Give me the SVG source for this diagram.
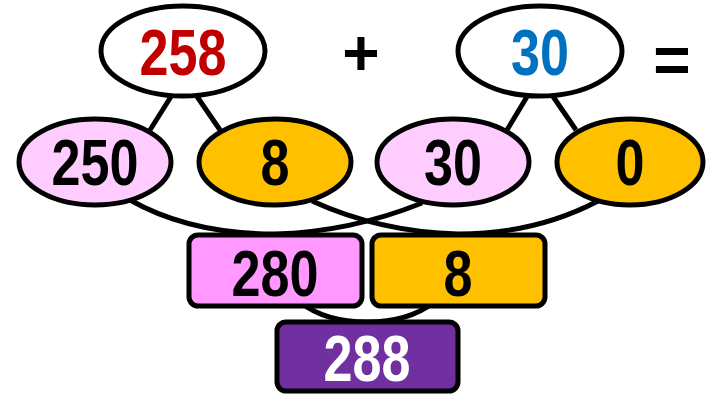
<svg xmlns="http://www.w3.org/2000/svg" width="708" height="396" viewBox="0 0 708 396">
<style>
.n{stroke:#000;stroke-width:5}
.c{fill:none;stroke:#000;stroke-width:5}
text{font-family:"Liberation Sans",Arial,sans-serif;font-weight:bold;font-size:64px;text-anchor:middle}
.w{fill:#fff}.lp{fill:#FFCCFF}.or{fill:#FFC000}.pk{fill:#FF99FF}.pu{fill:#7030A0}
</style>
<g id="connectors">
<line class="c" x1="172" y1="95" x2="150" y2="130"/>
<line class="c" x1="196" y1="95" x2="220" y2="130"/>
<line class="c" x1="528" y1="95" x2="507" y2="130"/>
<line class="c" x1="552" y1="95" x2="576" y2="130"/>
<path class="c" d="M130,200 Q190,234 275,234"/>
<path class="c" d="M312,201 Q380,232 458,234"/>
<path class="c" d="M422,203 Q350,232 275,234"/>
<path class="c" d="M598,201 Q535,234 458,234"/>
<path class="c" d="M300,302 Q325,322 367,322"/>
<path class="c" d="M434,302 Q409,322 367,322"/>
</g>
<g id="n258"><ellipse class="n w" cx="183" cy="51" rx="82" ry="45"/><text x="183" y="75" fill="#C00000" textLength="87" lengthAdjust="spacingAndGlyphs">258</text></g>
<g id="plus"><text x="361" y="75" font-size="58">+</text></g>
<g id="n30top"><ellipse class="n w" cx="540" cy="51" rx="82" ry="45"/><text x="540" y="75" fill="#0070C0" textLength="58" lengthAdjust="spacingAndGlyphs">30</text></g>
<g id="equals"><text x="672" y="82" font-size="58">=</text></g>
<g id="n250"><ellipse class="n lp" cx="95" cy="162" rx="76" ry="43"/><text x="95" y="185" textLength="87" lengthAdjust="spacingAndGlyphs">250</text></g>
<g id="n8"><ellipse class="n or" cx="275" cy="162" rx="76" ry="43"/><text x="275" y="185" textLength="29" lengthAdjust="spacingAndGlyphs">8</text></g>
<g id="n30"><ellipse class="n lp" cx="453" cy="162" rx="76" ry="43"/><text x="453" y="185" textLength="58" lengthAdjust="spacingAndGlyphs">30</text></g>
<g id="n0"><ellipse class="n or" cx="630" cy="162" rx="73" ry="43"/><text x="630" y="185" textLength="29" lengthAdjust="spacingAndGlyphs">0</text></g>
<g id="n280"><rect class="n pk" x="189" y="235" width="173" height="71" rx="9"/><text x="275" y="296" textLength="87" lengthAdjust="spacingAndGlyphs">280</text></g>
<g id="n8b"><rect class="n or" x="372" y="235" width="173" height="71" rx="9"/><text x="458" y="296" textLength="29" lengthAdjust="spacingAndGlyphs">8</text></g>
<g id="n288"><rect class="n pu" x="277" y="322" width="181" height="69" rx="9"/><text x="367" y="381" fill="#fff" textLength="87" lengthAdjust="spacingAndGlyphs">288</text></g>
</svg>
